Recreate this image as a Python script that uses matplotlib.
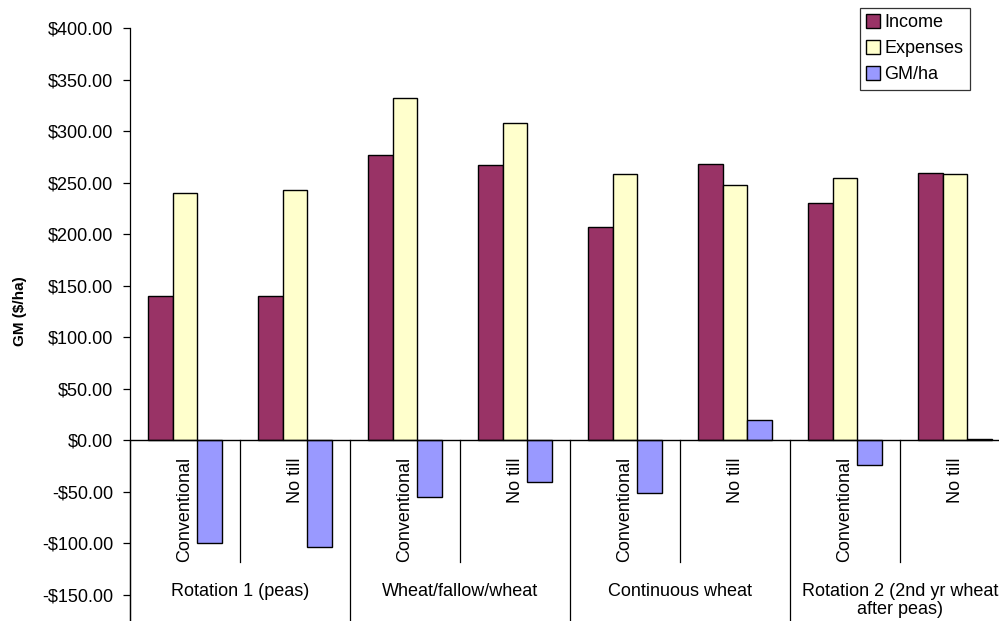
import matplotlib
matplotlib.use("Agg")
import matplotlib.pyplot as plt
import numpy as np

# Gross margin by rotation and tillage system
groups = ["Rotation 1 (peas)", "Wheat/fallow/wheat", "Continuous wheat",
          "Rotation 2 (2nd yr wheat\nafter peas)"]
tillage = ["Conventional", "No till"]
income = [139.5, 139.5, 277.0, 267.0, 207.0, 267.5, 230.0, 259.5]
expenses = [239.5, 243.0, 332.0, 307.5, 258.5, 248.0, 254.5, 258.5]
gm_per_ha = [-100.0, -103.5, -55.0, -40.5, -51.5, 19.5, -24.5, 1.0]
series_names = ["Income", "Expenses", "GM/ha"]
series_colors = ["#993366", "#FFFFCC", "#9999FF"]
yticks = [-150, -100, -50, 0, 50, 100, 150, 200, 250, 300, 350, 400]

plt.rcParams["font.family"] = ["Liberation Sans", "DejaVu Sans"]

W, H = 999, 621
fig = plt.figure(figsize=(W / 100, H / 100), dpi=100)
ax = fig.add_axes([130 / W, 0, 880 / W, (H - 28) / H])

ymin, ymax = -175.7, 400
ax.set_ylim(ymin, ymax)
n = len(income)
ax.set_xlim(0, n)

bw = 1 / 4.5
offsets = [0.75 * bw + bw * (i + 0.5) for i in range(3)]
x0 = np.arange(n)
handles = []
for vals, name, col, off in zip([income, expenses, gm_per_ha], series_names,
                                series_colors, offsets):
    h = ax.bar(x0 + off, vals, width=bw, color=col, edgecolor="black",
               linewidth=1.0, label=name, zorder=3)
    handles.append(h)

# axes styling
for s in ["top", "right", "bottom"]:
    ax.spines[s].set_visible(False)
ax.spines["left"].set_color("black")
ax.spines["left"].set_linewidth(0.9)
ax.axhline(0, color="black", lw=1.0, zorder=4)
ax.set_xticks([])
ax.set_yticks(yticks)
ax.set_yticklabels([("-$%.2f" % -v) if v < 0 else ("$%.2f" % v) for v in yticks],
                   fontsize=13)
ax.tick_params(axis="y", direction="out", length=5, width=0.9, pad=7)

# y-axis title centred on the value range
fig.text(20 / W, 1 - 311 / H, "GM ($/ha)", rotation=90, fontsize=11,
         fontweight="bold", ha="center", va="center")

# two-level category axis
sub_bottom = -118.5
for k in range(n + 1):
    if k % 2 == 0:
        ax.plot([k, k], [0, ymin], color="black", lw=0.9, clip_on=False, zorder=2)
    else:
        ax.plot([k, k], [0, sub_bottom], color="black", lw=0.9, clip_on=False,
                zorder=2)
for k in range(n):
    ax.text(k + 0.5, -16.5, tillage[k % 2], rotation=90, ha="center", va="top",
            fontsize=13, zorder=5)
for g, name in enumerate(groups):
    ax.text(2 * g + 1, -138.5, name, ha="center", va="top", fontsize=13,
            linespacing=1.1, clip_on=False)

leg = fig.legend(handles=handles, labels=series_names, loc="upper left",
                 bbox_to_anchor=(860 / W, 1 - 8 / H), fontsize=13,
                 frameon=True, fancybox=False, edgecolor="black",
                 handlelength=0.75, handleheight=0.75, handletextpad=0.25,
                 borderpad=0.35, labelspacing=0.5, borderaxespad=0)
leg.get_frame().set_linewidth(0.9)

fig.savefig("out.png", dpi=100)
